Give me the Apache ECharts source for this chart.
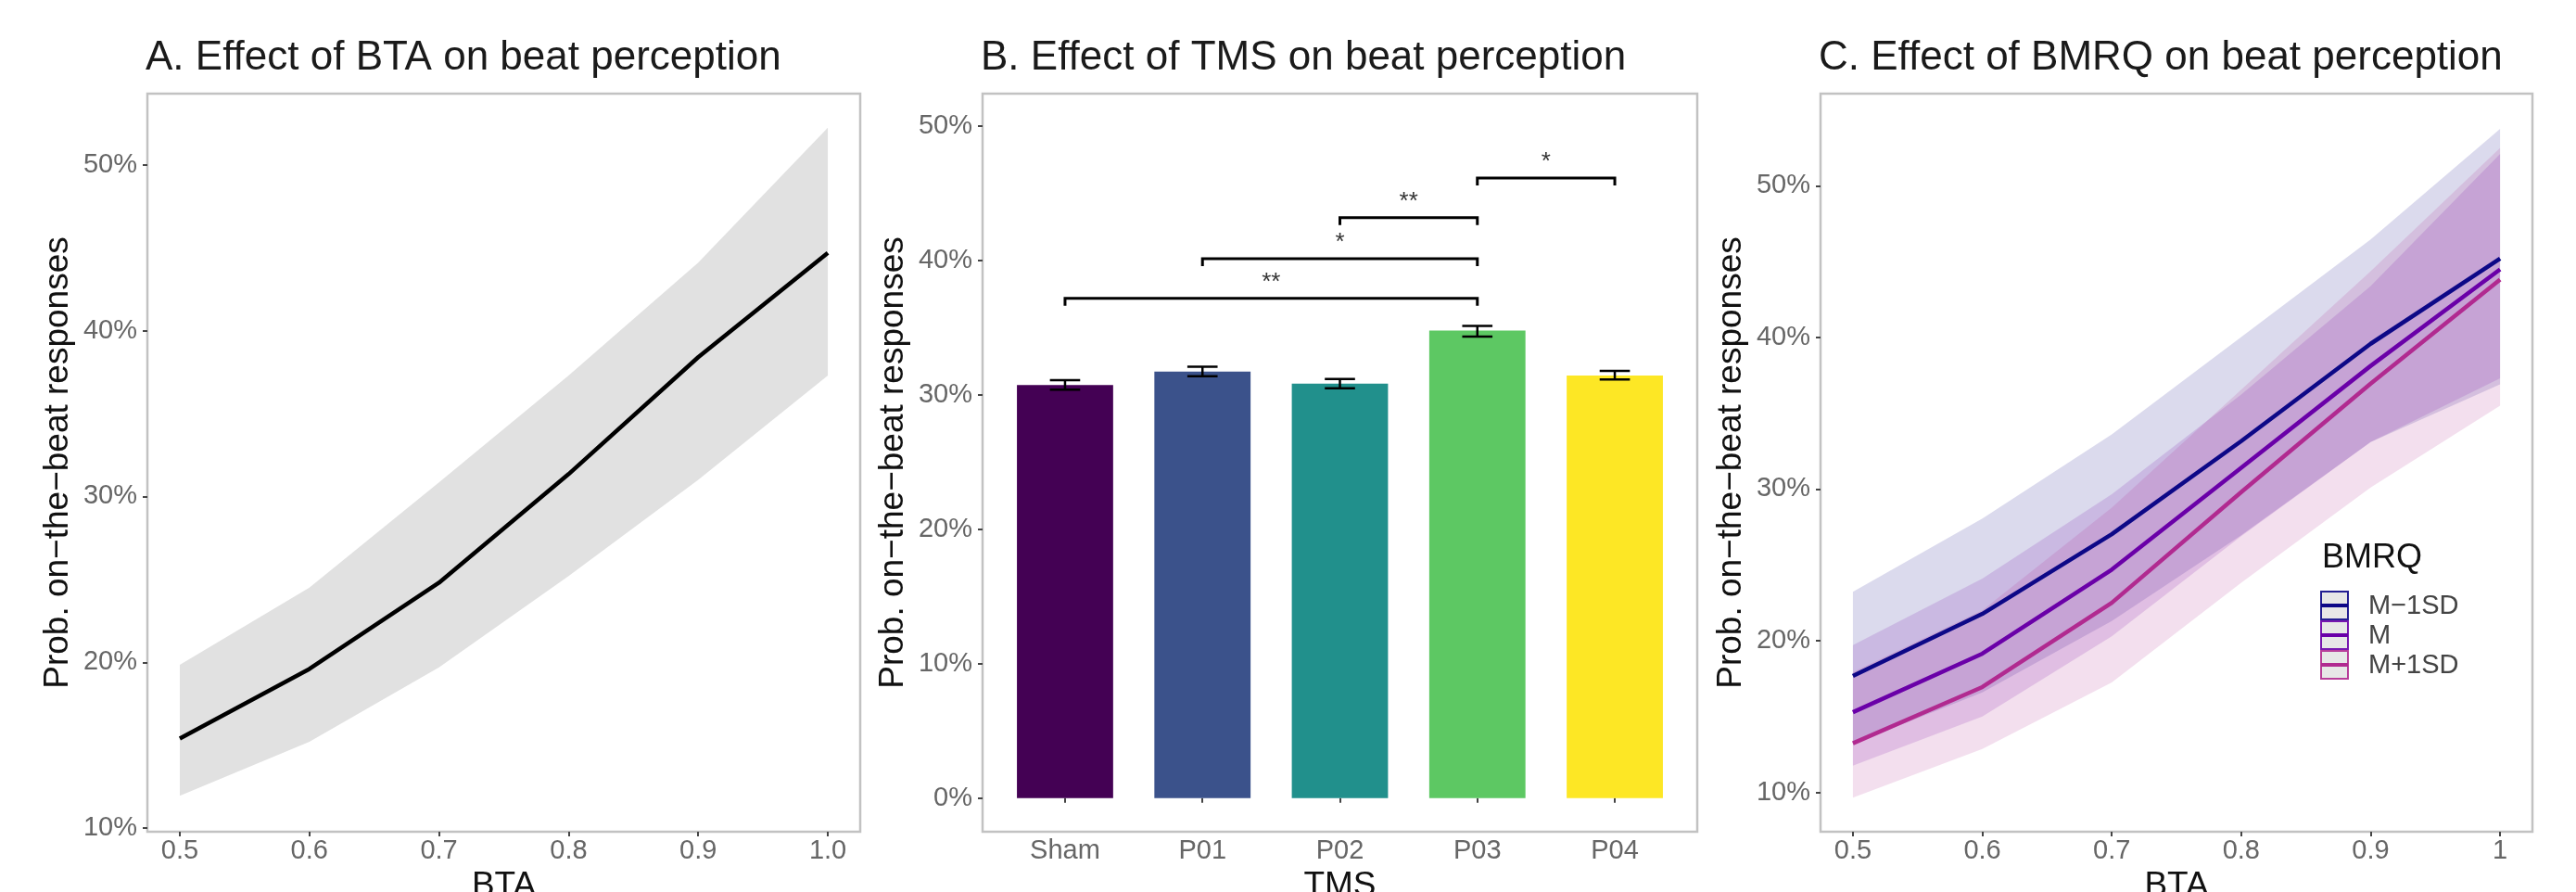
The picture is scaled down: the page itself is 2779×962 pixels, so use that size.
<!DOCTYPE html>
<html>
<head>
<meta charset="utf-8">
<script src="https://cdn.jsdelivr.net/npm/echarts@6/dist/echarts.min.js"></script>
<style>
  html, body { margin: 0; padding: 0; background: #fff; }
  #main { width: 2779px; height: 962px; }
</style>
</head>
<body>
<div id="main"></div>
<script>
  // A. BTA effect (percent)
  const bta = [0.5, 0.6, 0.7, 0.8, 0.9, 1.0]
  const btaFit = [15.4, 19.6, 24.8, 31.35, 38.4, 44.7]
  const btaLower = [11.95, 15.2, 19.7, 25.2, 31.0, 37.3]
  const btaUpper = [19.85, 24.5, 30.85, 37.3, 44.1, 52.25]

  // B. TMS effect (percent)
  const tmsCats = ['Sham', 'P01', 'P02', 'P03', 'P04']
  const tmsMean = [30.75, 31.75, 30.85, 34.8, 31.45]
  const tmsLow = [30.4, 31.4, 30.5, 34.35, 31.15]
  const tmsHigh = [31.1, 32.1, 31.2, 35.15, 31.8]
  const tmsColors = ['#440154', '#3B528B', '#21908C', '#5DC863', '#FDE725']
  // significance brackets
  const sigFrom = ['Sham', 'P01', 'P02', 'P03']
  const sigTo = ['P03', 'P03', 'P03', 'P04']
  const sigY = [37.2, 40.15, 43.2, 46.15]
  const sigLabels = ['**', '*', '**', '*']

  // C. BMRQ x BTA (percent)
  const bmrqGroups = ['M\u22121SD', 'M', 'M+1SD']
  const bmrqColors = ['#0D0887', '#6A00A8', '#B12A90']
  const lowFit = [17.68, 21.77, 27.03, 33.16, 39.58, 45.19]
  const lowLower = [13.2, 16.6, 21.3, 26.95, 33.1, 36.9]
  const lowUpper = [23.23, 28.05, 33.6, 40.02, 46.45, 53.75]
  const midFit = [15.29, 19.15, 24.69, 31.4, 38.12, 44.49]
  const midLower = [11.76, 15.0, 20.3, 26.9, 33.1, 37.3]
  const midUpper = [19.72, 24.1, 29.66, 36.23, 43.38, 52.1]
  const highFit = [13.24, 16.95, 22.5, 29.8, 36.95, 43.82]
  const highLower = [9.65, 12.86, 17.25, 23.82, 30.1, 35.5]
  const highUpper = [17.92, 22.0, 28.78, 36.56, 44.37, 52.5]

  const pctTicks = [10, 20, 30, 40, 50]
  const barTicks = [0, 10, 20, 30, 40, 50]
  const btaLabels = ['0.5', '0.6', '0.7', '0.8', '0.9', '1.0']
  const btaLabelsC = ['0.5', '0.6', '0.7', '0.8', '0.9', '1']

  const font = 'Liberation Sans, Arial, sans-serif'
  const yName = 'Prob. on\u2212the\u2212beat responses'

  function xAxisOf(idx, min, max, ticks, labels, name) {
    return {
      type: 'value', gridIndex: idx, min: min, max: max,
      name: name, nameLocation: 'middle', nameGap: 40, nameMoveOverlap: false,
      nameTextStyle: { fontFamily: font, fontSize: 37, color: '#111' },
      axisLine: { show: false },
      axisTick: { show: true, length: 5, customValues: ticks, lineStyle: { color: '#444', width: 2 } },
      axisLabel: {
        customValues: ticks, margin: 6,
        fontFamily: font, fontSize: 29, color: '#666',
        formatter: v => labels[ticks.indexOf(v)]
      },
      splitLine: { show: false }
    }
  }
  function yAxisOf(idx, min, max, ticks) {
    return {
      type: 'value', gridIndex: idx, min: min, max: max,
      name: yName, nameLocation: 'middle', nameGap: 78, nameMoveOverlap: false,
      nameTextStyle: { fontFamily: font, fontSize: 37, color: '#111' },
      axisLine: { show: false },
      axisTick: { show: true, length: 5, customValues: ticks, lineStyle: { color: '#444', width: 2 } },
      axisLabel: {
        customValues: ticks, margin: 11,
        fontFamily: font, fontSize: 29, color: '#666',
        formatter: v => v + '%'
      },
      splitLine: { show: false }
    }
  }

  // confidence band: one polygon built from all points of the series
  function ribbon(idx, lower, upper, color, opacity) {
    return {
      type: 'custom', xAxisIndex: idx, yAxisIndex: idx, silent: true, z: 1,
      data: bta.map((x, i) => [x, lower[i], upper[i]]),
      renderItem(params, api) {
        if (params.dataIndexInside !== 0) return null
        const top = [], bottom = []
        for (let i = 0; i < params.dataInsideLength; i++) {
          top.push(api.coord([api.value(0, i), api.value(2, i)]))
          bottom.push(api.coord([api.value(0, i), api.value(1, i)]))
        }
        return {
          type: 'polygon',
          shape: { points: top.concat(bottom.reverse()) },
          style: { fill: color, opacity: opacity }
        }
      }
    }
  }
  function fitLine(idx, values, color) {
    return {
      type: 'line', xAxisIndex: idx, yAxisIndex: idx,
      data: bta.map((x, i) => [x, values[i]]),
      symbol: 'none', lineStyle: { width: 4.5, color: color }, z: 5
    }
  }

  const chart = echarts.init(document.getElementById('main'))

  const grids = [
    { left: 159, top: 101, width: 769, height: 796 },
    { left: 1060, top: 101, width: 771, height: 796 },
    { left: 1964, top: 101, width: 768, height: 796 }
  ].map(g => Object.assign(g, {
    show: true, borderColor: '#c2c2c2', borderWidth: 2.5,
    containLabel: false, outerBoundsMode: 'none'
  }))

  const titleStyle = { fontFamily: font, fontSize: 44, fontWeight: 'normal', color: '#1a1a1a' }

  const series = []
  // panel A
  series.push(ribbon(0, btaLower, btaUpper, '#e1e1e1', 1))
  series.push(fitLine(0, btaFit, '#000'))

  // panel B bars
  series.push({
    type: 'custom', xAxisIndex: 1, yAxisIndex: 1,
    data: tmsMean.map((v, i) => [i + 1, v]),
    renderItem(params, api) {
      const x = api.value(0)
      const p0 = api.coord([x - 0.35, 0])
      const p1 = api.coord([x + 0.35, api.value(1)])
      return {
        type: 'rect',
        shape: { x: p0[0], y: p1[1], width: p1[0] - p0[0], height: p0[1] - p1[1] },
        style: { fill: tmsColors[params.dataIndex] }
      }
    },
    z: 2
  })
  // panel B error bars
  series.push({
    type: 'custom', xAxisIndex: 1, yAxisIndex: 1,
    data: tmsMean.map((v, i) => [i + 1, tmsLow[i], tmsHigh[i]]),
    renderItem(params, api) {
      const x = api.value(0)
      const lo = api.coord([x, api.value(1)])
      const hi = api.coord([x, api.value(2)])
      const half = api.size([0.11, 0])[0]
      const st = { stroke: '#000', lineWidth: 2.5 }
      return {
        type: 'group',
        children: [
          { type: 'line', shape: { x1: lo[0], y1: lo[1], x2: hi[0], y2: hi[1] }, style: st },
          { type: 'line', shape: { x1: lo[0] - half, y1: lo[1], x2: lo[0] + half, y2: lo[1] }, style: st },
          { type: 'line', shape: { x1: hi[0] - half, y1: hi[1], x2: hi[0] + half, y2: hi[1] }, style: st }
        ]
      }
    },
    z: 3
  })
  // panel B significance brackets
  series.push({
    type: 'custom', xAxisIndex: 1, yAxisIndex: 1,
    data: sigY.map((y, i) => [tmsCats.indexOf(sigFrom[i]) + 1, tmsCats.indexOf(sigTo[i]) + 1, y]),
    renderItem(params, api) {
      const a = api.coord([api.value(0), api.value(2)])
      const b = api.coord([api.value(1), api.value(2)])
      const tip = api.size([0, 0.55])[1]
      return {
        type: 'group',
        children: [
          {
            type: 'polyline',
            shape: { points: [[a[0], a[1] + tip], a, b, [b[0], b[1] + tip]] },
            style: { stroke: '#000', lineWidth: 3, fill: null }
          },
          {
            type: 'text',
            style: {
              x: (a[0] + b[0]) / 2, y: a[1] - 4, text: sigLabels[params.dataIndex],
              align: 'center', verticalAlign: 'bottom',
              font: '26px ' + font, fill: '#333'
            }
          }
        ]
      }
    },
    z: 3
  })

  // panel C
  const cLower = [lowLower, midLower, highLower]
  const cUpper = [lowUpper, midUpper, highUpper]
  const cFit = [lowFit, midFit, highFit]
  bmrqGroups.forEach((g, k) => {
    series.push(ribbon(2, cLower[k], cUpper[k], bmrqColors[k], 0.15))
  })
  bmrqGroups.forEach((g, k) => {
    series.push(fitLine(2, cFit[k], bmrqColors[k]))
  })

  // legend for panel C, ggplot style
  const legendItems = []
  legendItems.push({
    type: 'text', left: 2505, top: 584,
    style: { text: 'BMRQ', font: '36px ' + font, fill: '#111' }
  })
  bmrqGroups.forEach((g, k) => {
    const y0 = 637 + k * 32
    legendItems.push({
      type: 'rect', shape: { x: 2504, y: y0 + 1, width: 29, height: 30 },
      style: { fill: '#e4e4e4', stroke: bmrqColors[k], lineWidth: 2, opacity: 0.9 }
    })
    legendItems.push({
      type: 'line', shape: { x1: 2504, y1: y0 + 16, x2: 2533, y2: y0 + 16 },
      style: { stroke: bmrqColors[k], lineWidth: 4 }
    })
    legendItems.push({
      type: 'text', left: 2555, top: y0 + 2,
      style: { text: g, font: '29px ' + font, fill: '#444' }
    })
  })

  chart.setOption({
    animation: false,
    backgroundColor: '#fff',
    title: [
      { text: 'A. Effect of BTA on beat perception', left: 157, top: 41, textStyle: titleStyle, padding: 0 },
      { text: 'B. Effect of TMS on beat perception', left: 1058, top: 41, textStyle: titleStyle, padding: 0 },
      { text: 'C. Effect of BMRQ on beat perception', left: 1962, top: 41, textStyle: titleStyle, padding: 0 }
    ],
    grid: grids,
    xAxis: [
      xAxisOf(0, 0.475, 1.025, bta, btaLabels, 'BTA'),
      xAxisOf(1, 0.4, 5.6, [1, 2, 3, 4, 5], tmsCats, 'TMS'),
      xAxisOf(2, 0.475, 1.025, bta, btaLabelsC, 'BTA')
    ],
    yAxis: [
      yAxisOf(0, 9.78, 54.3, pctTicks),
      yAxisOf(1, -2.5, 52.43, barTicks),
      yAxisOf(2, 7.41, 56.07, pctTicks)
    ],
    graphic: legendItems,
    series: series
  })
</script>
</body>
</html>
